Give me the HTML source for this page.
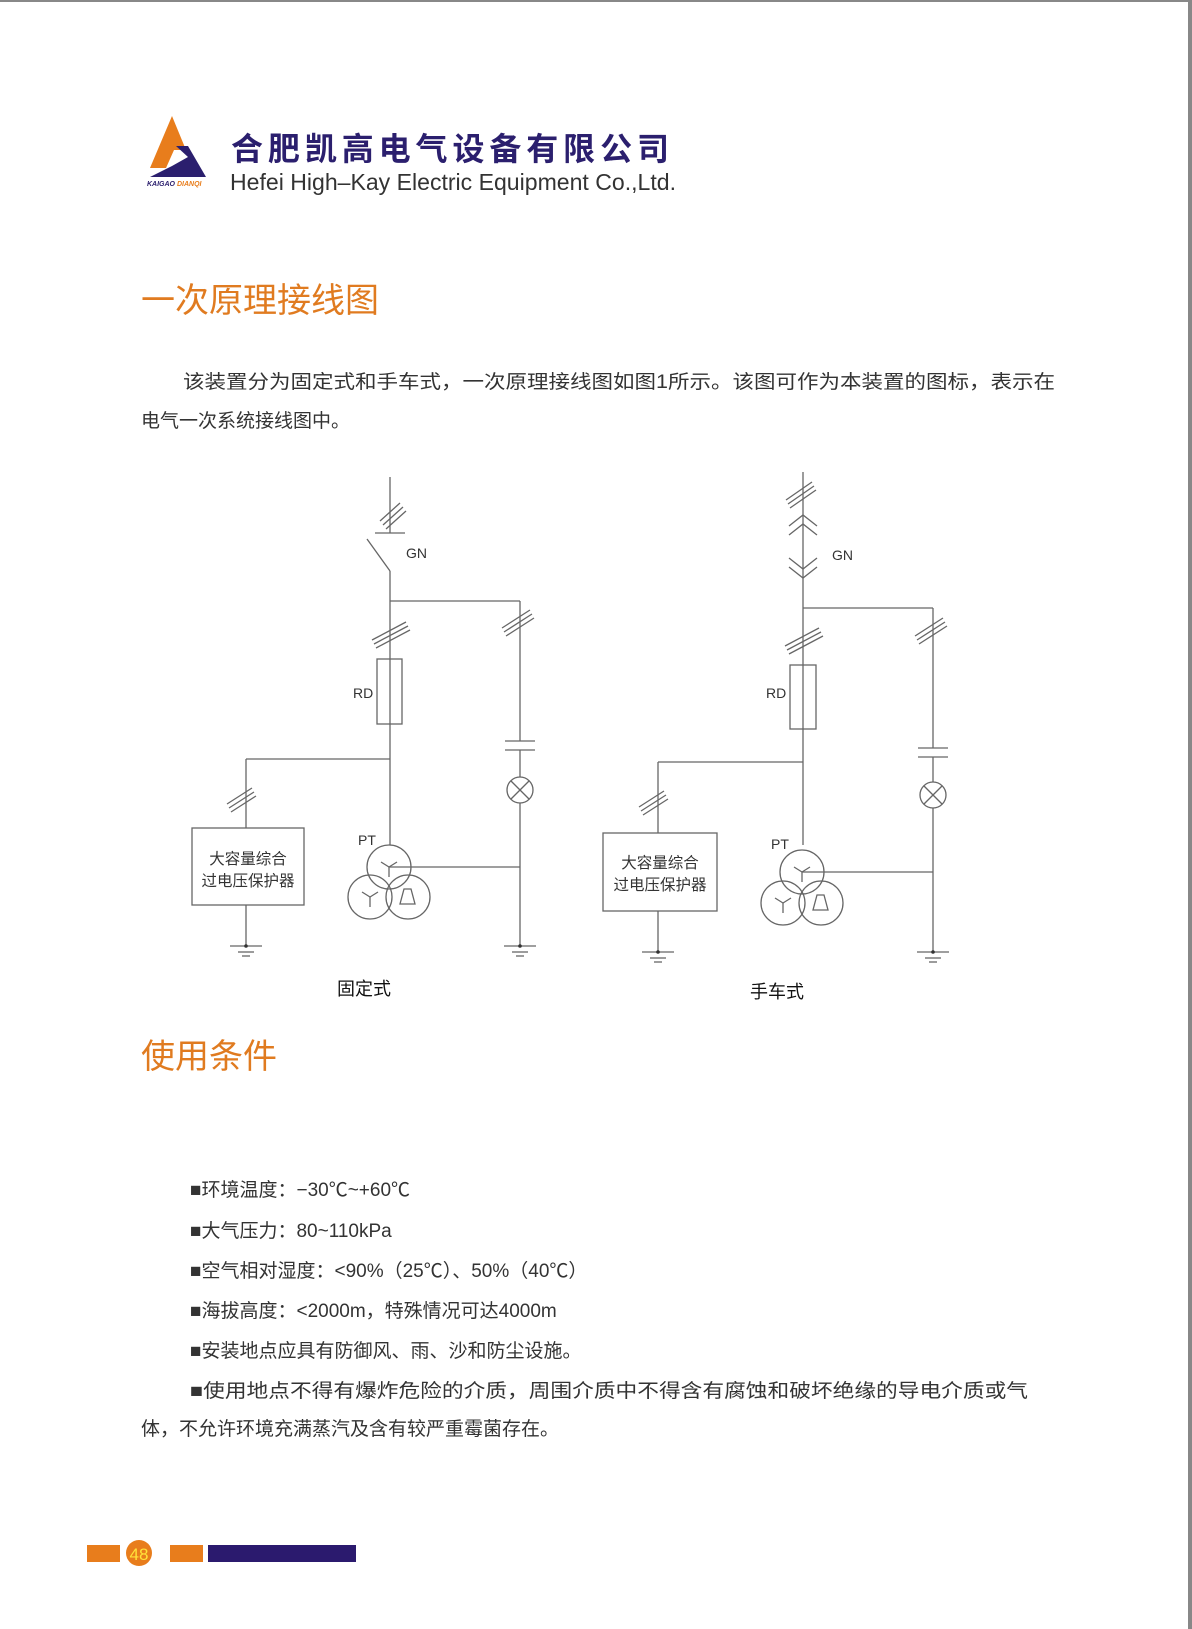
<!DOCTYPE html>
<html><head><meta charset="utf-8"><style>
html,body{margin:0;padding:0;background:#fff}
svg{display:block}
</style></head><body>
<svg width="1192" height="1629" viewBox="0 0 1192 1629" xmlns="http://www.w3.org/2000/svg" font-family="'Liberation Sans','Noto Sans CJK SC',sans-serif">
<rect x="0" y="0" width="1192" height="2" fill="#888"/>
<rect x="1188" y="0" width="4" height="1629" fill="#888"/>

<!-- logo -->
<polygon points="172,116 150,168 166,168 174,150 186,150" fill="#e87d1c"/>
<polygon points="176,146 188,146 206,177 150,177 172,166 188,157" fill="#2b1f6e"/>
<text x="147" y="186" font-size="7" font-weight="bold" font-style="italic" fill="#2b1f6e">KAIGAO <tspan fill="#e87d1c">DIANQI</tspan></text>
<text x="231" y="160" font-size="32" font-weight="bold" fill="#2b1f6e" textLength="438" lengthAdjust="spacing">合肥凯高电气设备有限公司</text>
<text x="230" y="190" font-size="23" fill="#333" textLength="446" lengthAdjust="spacingAndGlyphs">Hefei High–Kay Electric Equipment Co.,Ltd.</text>

<!-- headings -->
<text x="141" y="312" font-size="34" fill="#e07b20">一次原理接线图</text>
<g font-size="19" fill="#333">
<text x="183" y="388" textLength="872" lengthAdjust="spacingAndGlyphs">该装置分为固定式和手车式，一次原理接线图如图1所示。该图可作为本装置的图标，表示在</text>
<text x="141" y="427">电气一次系统接线图中。</text>
</g>

<!-- left diagram -->
<g stroke="#666" stroke-width="1.3" fill="none">
<line x1="390" y1="477" x2="390" y2="533"/>
<line x1="375" y1="533" x2="405" y2="533"/>
<line x1="380" y1="521" x2="400" y2="503"/><line x1="383" y1="525" x2="403" y2="507"/><line x1="386" y1="529" x2="406" y2="511"/>
<line x1="367" y1="539" x2="390" y2="571"/>
<line x1="390" y1="571" x2="390" y2="845"/>
<line x1="390" y1="601" x2="520" y2="601"/>
<line x1="520" y1="601" x2="520" y2="741"/>
<line x1="372" y1="640" x2="406" y2="622"/><line x1="374" y1="644" x2="408" y2="626"/><line x1="376" y1="648" x2="410" y2="630"/>
<line x1="502" y1="628" x2="530" y2="610"/><line x1="504" y1="632" x2="532" y2="614"/><line x1="506" y1="636" x2="534" y2="618"/>
<rect x="377" y="659" width="25" height="65" fill="#fff"/>
<line x1="390" y1="659" x2="390" y2="724"/>
<line x1="505" y1="741" x2="535" y2="741"/><line x1="505" y1="750" x2="535" y2="750"/>
<line x1="520" y1="750" x2="520" y2="777"/>
<circle cx="520" cy="790" r="13"/>
<line x1="511" y1="781" x2="529" y2="799"/><line x1="529" y1="781" x2="511" y2="799"/>
<line x1="520" y1="803" x2="520" y2="946"/>
<line x1="246" y1="759" x2="390" y2="759"/>
<line x1="246" y1="759" x2="246" y2="828"/>
<line x1="227" y1="804" x2="252" y2="788"/><line x1="229" y1="808" x2="254" y2="792"/><line x1="231" y1="812" x2="256" y2="796"/>
<rect x="192" y="828" width="112" height="77"/>
<line x1="246" y1="905" x2="246" y2="946"/>
<line x1="230" y1="946" x2="262" y2="946"/><line x1="238" y1="952" x2="254" y2="952"/><line x1="242" y1="956" x2="250" y2="956"/>
<line x1="504" y1="946" x2="536" y2="946"/><line x1="512" y1="952" x2="528" y2="952"/><line x1="516" y1="956" x2="524" y2="956"/>
<circle cx="389" cy="867" r="22"/>
<circle cx="370" cy="897" r="22"/>
<circle cx="408" cy="897" r="22"/>
<line x1="389" y1="867" x2="520" y2="867"/>
<line x1="389" y1="867" x2="389" y2="877"/><line x1="389" y1="867" x2="381" y2="862"/><line x1="389" y1="867" x2="397" y2="862"/>
<line x1="370" y1="897" x2="370" y2="907"/><line x1="370" y1="897" x2="362" y2="892"/><line x1="370" y1="897" x2="378" y2="892"/>
<polygon points="404,889 411,889 415,904 400,904"/>
</g>
<circle cx="246" cy="946" r="1.8" fill="#333"/><circle cx="520" cy="946" r="1.8" fill="#333"/>
<g font-size="14" fill="#333">
<text x="406" y="558">GN</text>
<text x="353" y="698">RD</text>
<text x="358" y="845">PT</text>
<text x="248" y="864" text-anchor="middle" font-size="15.5">大容量综合</text>
<text x="248" y="886" text-anchor="middle" font-size="15.5">过电压保护器</text>
<text x="364" y="995" text-anchor="middle" font-size="18" fill="#111">固定式</text>
</g>

<!-- right diagram -->
<g stroke="#666" stroke-width="1.3" fill="none">
<line x1="803" y1="472" x2="803" y2="845"/>
<line x1="786" y1="500" x2="812" y2="482"/><line x1="788" y1="504" x2="814" y2="486"/><line x1="790" y1="508" x2="816" y2="490"/>
<polyline points="789,526 803,515 817,526"/><polyline points="789,535 803,524 817,535"/>
<polyline points="789,558 803,569 817,558"/><polyline points="789,567 803,578 817,567"/>
<line x1="803" y1="608" x2="933" y2="608"/>
<line x1="933" y1="608" x2="933" y2="748"/>
<line x1="785" y1="646" x2="819" y2="628"/><line x1="787" y1="650" x2="821" y2="632"/><line x1="789" y1="654" x2="823" y2="636"/>
<line x1="915" y1="636" x2="943" y2="618"/><line x1="917" y1="640" x2="945" y2="622"/><line x1="919" y1="644" x2="947" y2="626"/>
<rect x="790" y="665" width="26" height="64" fill="#fff"/>
<line x1="803" y1="665" x2="803" y2="729"/>
<line x1="918" y1="748" x2="948" y2="748"/><line x1="918" y1="757" x2="948" y2="757"/>
<line x1="933" y1="757" x2="933" y2="782"/>
<circle cx="933" cy="795" r="13"/>
<line x1="924" y1="786" x2="942" y2="804"/><line x1="942" y1="786" x2="924" y2="804"/>
<line x1="933" y1="808" x2="933" y2="952"/>
<line x1="658" y1="762" x2="803" y2="762"/>
<line x1="658" y1="762" x2="658" y2="833"/>
<line x1="639" y1="807" x2="664" y2="791"/><line x1="641" y1="811" x2="666" y2="795"/><line x1="643" y1="815" x2="668" y2="799"/>
<rect x="603" y="833" width="114" height="78"/>
<line x1="658" y1="911" x2="658" y2="952"/>
<line x1="642" y1="952" x2="674" y2="952"/><line x1="650" y1="958" x2="666" y2="958"/><line x1="654" y1="962" x2="662" y2="962"/>
<line x1="917" y1="952" x2="949" y2="952"/><line x1="925" y1="958" x2="941" y2="958"/><line x1="929" y1="962" x2="937" y2="962"/>
<circle cx="802" cy="872" r="22"/>
<circle cx="783" cy="903" r="22"/>
<circle cx="821" cy="903" r="22"/>
<line x1="802" y1="872" x2="933" y2="872"/>
<line x1="802" y1="872" x2="802" y2="882"/><line x1="802" y1="872" x2="794" y2="867"/><line x1="802" y1="872" x2="810" y2="867"/>
<line x1="783" y1="903" x2="783" y2="913"/><line x1="783" y1="903" x2="775" y2="898"/><line x1="783" y1="903" x2="791" y2="898"/>
<polygon points="817,895 824,895 828,910 813,910"/>
</g>
<circle cx="658" cy="952" r="1.8" fill="#333"/><circle cx="933" cy="952" r="1.8" fill="#333"/>
<g font-size="14" fill="#333">
<text x="832" y="560">GN</text>
<text x="766" y="698">RD</text>
<text x="771" y="849">PT</text>
<text x="660" y="868" text-anchor="middle" font-size="15.5">大容量综合</text>
<text x="660" y="890" text-anchor="middle" font-size="15.5">过电压保护器</text>
<text x="777" y="998" text-anchor="middle" font-size="18" fill="#111">手车式</text>
</g>

<!-- conditions -->
<text x="141" y="1068" font-size="34" fill="#e07b20">使用条件</text>
<g font-size="19" fill="#333">
<text x="190" y="1196">■环境温度：−30℃~+60℃</text>
<text x="190" y="1237">■大气压力：80~110kPa</text>
<text x="190" y="1277">■空气相对湿度：&lt;90%（25℃）、50%（40℃）</text>
<text x="190" y="1317">■海拔高度：&lt;2000m，特殊情况可达4000m</text>
<text x="190" y="1357">■安装地点应具有防御风、雨、沙和防尘设施。</text>
<text x="190" y="1397" textLength="838" lengthAdjust="spacingAndGlyphs">■使用地点不得有爆炸危险的介质，周围介质中不得含有腐蚀和破坏绝缘的导电介质或气</text>
<text x="141" y="1435">体，不允许环境充满蒸汽及含有较严重霉菌存在。</text>
</g>

<!-- footer -->
<rect x="87" y="1545" width="33" height="17" fill="#e87d1c"/>
<circle cx="139" cy="1553" r="13" fill="#e87d1c"/>
<text x="139" y="1560" font-size="17" fill="#ffe23a" text-anchor="middle">48</text>
<rect x="170" y="1545" width="33" height="17" fill="#e87d1c"/>
<rect x="208" y="1545" width="148" height="17" fill="#2b1a6e"/>
</svg>
</body></html>
